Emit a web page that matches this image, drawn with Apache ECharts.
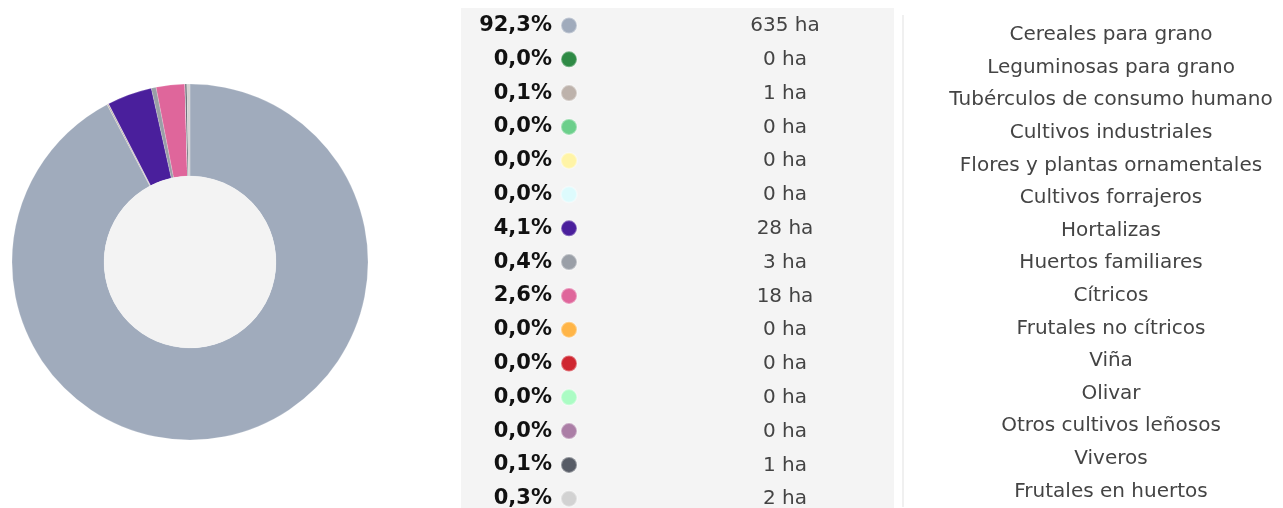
<!DOCTYPE html>
<html>
<head>
    <meta charset="utf-8">
    <title>Superficie de cultivos | ECharts</title>
    <script src="https://cdn.jsdelivr.net/npm/echarts@6/dist/echarts.min.js"></script>
    <style>
        html, body { margin: 0; padding: 0; background: #fff; }
    </style>
</head>
<body>
    <div id="main" style="width: 1283px;height:508px;"></div>
    <script type="text/javascript">
        // datos: superficie por grupo de cultivo (ha)
        var categories = [
            'Cereales para grano', 'Leguminosas para grano', 'Tubérculos de consumo humano',
            'Cultivos industriales', 'Flores y plantas ornamentales', 'Cultivos forrajeros',
            'Hortalizas', 'Huertos familiares', 'Cítricos', 'Frutales no cítricos',
            'Viña', 'Olivar', 'Otros cultivos leñosos', 'Viveros', 'Frutales en huertos'
        ];
        var hectares = [635, 0, 1, 0, 0, 0, 28, 3, 18, 0, 0, 0, 0, 1, 2];
        var colors = [
            '#a0abbc', '#2e8a45', '#bdb2ab', '#6ccf8b', '#fff4a6', '#ddfbfd',
            '#4a1f9c', '#9a9fa7', '#df669b', '#ffb547', '#cf2630', '#abfcc4',
            '#ab7ea6', '#575c66', '#d2d2d2'
        ];

        var font = '"DejaVu Sans", Verdana, sans-serif';
        var total = hectares.reduce(function (a, b) { return a + b; }, 0);

        function pct(name) {
            var v = hectares[categories.indexOf(name)];
            return (v / total * 100).toFixed(1).replace('.', ',') + '%';
        }
        function ha(name) {
            return hectares[categories.indexOf(name)] + ' ha';
        }

        var myChart = echarts.init(document.getElementById('main'));

        var option = {
            backgroundColor: '#fff',
            animation: false,
            color: colors,
            graphic: [
                {   // fondo gris de la tabla
                    type: 'rect', left: 461, top: 8, z: -10,
                    shape: { width: 433, height: 500 },
                    style: { fill: '#f4f4f4' }
                },
                {   // separador vertical
                    type: 'rect', left: 902, top: 15, z: -10,
                    shape: { width: 2, height: 492 },
                    style: { fill: '#f0f0f0' }
                }
            ],
            legend: [
                {   // porcentajes + punto de color
                    orient: 'vertical',
                    left: 476, top: 15, height: 560, padding: 0,
                    align: 'right',
                    icon: 'circle',
                    itemWidth: 16, itemHeight: 16,
                    itemGap: 12.8,
                    selectedMode: false,
                    data: categories,
                    formatter: function (name) { return '{p|' + pct(name) + '}'; },
                    textStyle: {
                        rich: {
                            p: {
                                width: 76, align: 'right', padding: [0, 4, 0, 0],
                                fontFamily: font, fontSize: 21, fontWeight: 'bold',
                                color: '#111', lineHeight: 20
                            }
                        }
                    }
                },
                {   // hectáreas
                    orient: 'vertical',
                    left: 710, top: 16, height: 560, padding: 0,
                    icon: 'none',
                    itemWidth: 0, itemHeight: 20,
                    itemGap: 13.8,
                    selectedMode: false,
                    data: categories,
                    formatter: function (name) { return '{h|' + ha(name) + '}'; },
                    textStyle: {
                        rich: {
                            h: {
                                width: 140, align: 'center',
                                fontFamily: font, fontSize: 20,
                                color: '#444', lineHeight: 20
                            }
                        }
                    }
                },
                {   // nombres
                    orient: 'vertical',
                    left: 933, top: 25, height: 560, padding: 0,
                    icon: 'none',
                    itemWidth: 0, itemHeight: 20,
                    itemGap: 12.6,
                    selectedMode: false,
                    data: categories,
                    formatter: function (name) { return '{n|' + name + '}'; },
                    textStyle: {
                        rich: {
                            n: {
                                width: 346, align: 'center',
                                fontFamily: font, fontSize: 20,
                                color: '#444', lineHeight: 20
                            }
                        }
                    }
                }
            ],
            series: [
                {
                    name: 'Cultivos',
                    type: 'pie',
                    center: [190, 262],
                    radius: [86, 178],
                    startAngle: 90,
                    clockwise: true,
                    avoidLabelOverlap: false,
                    label: { show: false },
                    labelLine: { show: false },
                    itemStyle: { borderColor: 'rgba(255,255,255,0.35)', borderWidth: 0.5 },
                    emphasis: { scale: false },
                    data: categories.map(function (c, i) {
                        return { name: c, value: hectares[i] };
                    })
                },
                {   // hueco central gris claro
                    type: 'pie',
                    center: [190, 262],
                    radius: [0, 86],
                    silent: true,
                    label: { show: false },
                    labelLine: { show: false },
                    itemStyle: { color: '#f3f3f3' },
                    data: [{ name: 'hueco', value: 1 }]
                }
            ]
        };

        myChart.setOption(option);
    </script>
</body>
</html>
